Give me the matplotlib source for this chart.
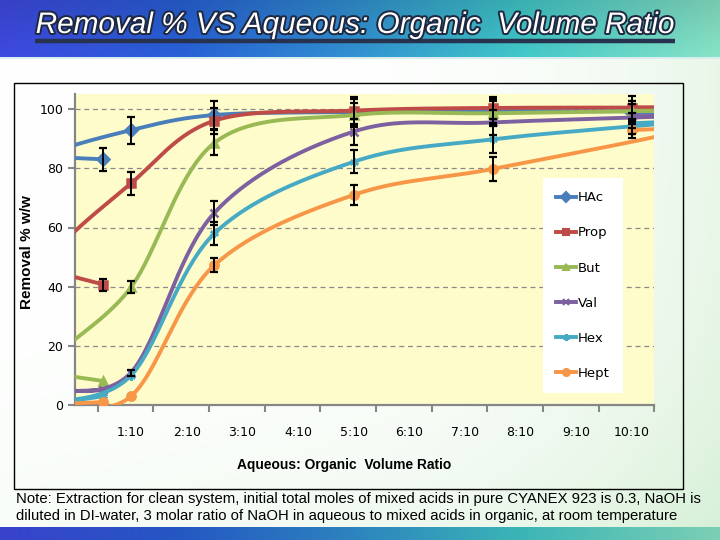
import numpy as np
import matplotlib
matplotlib.use("Agg")
import matplotlib.pyplot as plt
import matplotlib.patheffects as pe
from matplotlib.lines import Line2D
from matplotlib.patches import Rectangle

# aqueous : organic volume ratio of each sample
ratios = [0.05, 0.1, 0.25, 0.5, 0.75, 1.0]
tick_ratios = [0.1, 0.2, 0.3, 0.4, 0.5, 0.6, 0.7, 0.8, 0.9, 1.0]
tick_labels = ["1:10", "2:10", "3:10", "4:10", "5:10", "6:10", "7:10", "8:10", "9:10", "10:10"]

names = ["HAc", "Prop", "But", "Val", "Hex", "Hept"]

# removal % w/w
hac = [83.0, 92.9, 98.0, 99.0, 99.3, 98.8]
prop = [40.6, 74.9, 96.1, 99.5, 100.4, 100.5]
but = [8.0, 39.8, 88.6, 98.0, 98.6, 99.4]
val = [5.0, 11.0, 65.0, 92.4, 95.5, 97.6]
hexa = [3.0, 10.0, 58.0, 82.2, 89.8, 95.2]
hept = [1.0, 3.0, 47.3, 71.0, 79.8, 92.9]

hac_err = [3.9, 4.6, 4.6, 4.5, 4.0, 4.0]
prop_err = [2.0, 3.9, 4.4, 4.6, 3.8, 3.8]
but_err = [0.0, 2.0, 4.2, 4.0, 4.0, 3.5]
val_err = [0.0, 1.0, 4.0, 4.4, 4.3, 4.0]
hexa_err = [0.0, 0.0, 4.0, 3.9, 4.5, 3.5]
hept_err = [0.0, 0.0, 2.3, 3.4, 4.1, 2.8]

# the original smoothed lines pass through two unplotted rows, one left of
# the axis (between 1:20 and 1:10) and one right of the plot (before 10:10)
ghost_x = [-0.04, 1.08]
hac_ghost = [85.0, 99.2]
prop_ghost = [49.5, 100.5]
but_ghost = [14.5, 99.5]
val_ghost = [5.2, 97.6]
hexa_ghost = [1.0, 95.5]
hept_ghost = [0.5, 92.3]

colors = ["#4a7ebb", "#be4b48", "#98b954", "#7d60a0", "#46aac5", "#f79646"]
markers = ["D", "s", "^", "x", (6, 2, 0), "o"]


def smooth(xs, ys, n=40):
    # Excel style smoothing: Catmull-Rom as cubic Bezier segments
    pts = np.column_stack([xs, ys]).astype(float)
    out = [pts[0]]
    t = np.linspace(0, 1, n)[1:, None]
    for i in range(len(pts) - 1):
        p0 = pts[max(i - 1, 0)]
        p1, p2 = pts[i], pts[i + 1]
        p3 = pts[min(i + 2, len(pts) - 1)]
        c1 = p1 + (p2 - p0) / 6
        c2 = p2 - (p3 - p1) / 6
        seg = (1 - t) ** 3 * p1 + 3 * (1 - t) ** 2 * t * c1 + 3 * (1 - t) * t ** 2 * c2 + t ** 3 * p2
        out.extend(seg)
    return np.array(out)


def line_path(values, ghost):
    xs = [ratios[0], ghost_x[0]] + ratios[1:5] + [ghost_x[1], ratios[5]]
    ys = [values[0], ghost[0]] + values[1:5] + [ghost[1], values[5]]
    return smooth(xs, ys)


def background(w=720, h=540):
    xx = np.linspace(0, 1, w)
    img = np.ones((h, w, 3))
    # header band
    stops = [0.0, 0.25, 0.5, 0.72, 1.0]
    hdr = np.array([[60, 70, 215], [38, 92, 205], [48, 140, 200], [62, 190, 192], [130, 218, 190]]) / 255
    head = np.column_stack([np.interp(xx, stops, hdr[:, k]) for k in range(3)])
    img[:57] = head[None, :, :]
    img[:57] *= np.linspace(0.92, 1.05, 57)[:, None, None]
    img[57:59] = [0.85, 0.93, 0.93]
    # body: white fading into pale green
    yy = np.linspace(0, 1, h - 59 - 13)[:, None]
    g = np.clip(0.55 * xx[None, :] ** 4 + 0.45 * yy ** 3 * (0.4 + 0.6 * xx[None, :]), 0, 1)
    green = np.array([0.84, 0.94, 0.84])
    img[59:h - 13] = 1 - g[:, :, None] * (1 - green)
    # footer band
    img[h - 13:] = head[None, :, :] * 0.95
    return np.clip(img, 0, 1)


fig = plt.figure(figsize=(7.2, 5.4), dpi=100)

bg = fig.add_axes([0, 0, 1, 1], zorder=-10)
bg.imshow(background(), aspect="auto", extent=[0, 720, 540, 0])
bg.set_xlim(0, 720)
bg.set_ylim(540, 0)
bg.axis("off")

bg.add_patch(Rectangle((14, 83), 669, 406, fill=False, edgecolor="black", lw=1.0))

title = bg.text(355, 33, "Removal % VS Aqueous: Organic  Volume Ratio", ha="center", va="baseline",
                fontsize=21.4, style="italic", color="white", family="Liberation Sans")
title.set_path_effects([pe.withStroke(linewidth=2.8, foreground="#1e2840")])
bg.plot([35, 675], [41, 41], color="#27324f", lw=3.2, solid_capstyle="butt")

bg.text(27, 252, "Removal % w/w", rotation=90, ha="center", va="center",
        fontsize=11, fontweight="bold", family="Liberation Sans")
bg.text(344, 465, "Aqueous: Organic  Volume Ratio", ha="center", va="center",
        fontsize=9.9, fontweight="bold", family="Liberation Sans")

note = ["Note: Extraction for clean system, initial total moles of mixed acids in pure CYANEX 923 is 0.3, NaOH is",
        "diluted in DI-water, 3 molar ratio of NaOH in aqueous to mixed acids in organic, at room temperature"]
bg.text(16, 499, note[0], ha="left", va="center", fontsize=10.75, family="Liberation Sans")
bg.text(16, 516, note[1], ha="left", va="center", fontsize=10.75, family="Liberation Sans")

ax = fig.add_axes([75.3 / 720, (540 - 405.1) / 540, 579 / 720, 310.8 / 540])
ax.set_facecolor("#fffccb")
ax.set_xlim(0, 1.04)
ax.set_ylim(0, 105)

series = [hac, prop, but, val, hexa, hept]
errors = [hac_err, prop_err, but_err, val_err, hexa_err, hept_err]
ghosts = [hac_ghost, prop_ghost, but_ghost, val_ghost, hexa_ghost, hept_ghost]

handles = []
for i, (vals, err, gh) in enumerate(zip(series, errors, ghosts)):
    path = line_path(vals, gh)
    z = 3 + i * 0.1
    ax.plot(path[:, 0], path[:, 1], color=colors[i], lw=2.8, solid_capstyle="round", zorder=z)
    ax.plot(ratios, vals, linestyle="none", marker=markers[i], color=colors[i],
            mec=colors[i], mew=1.8, ms=6, zorder=z + 0.05)
    # only the points that carry an error bar on the slide
    keep = [k for k, e in enumerate(err) if e > 0]
    ax.errorbar([ratios[k] for k in keep], [vals[k] for k in keep], yerr=[err[k] for k in keep],
                fmt="none", ecolor="black", elinewidth=1.4, capsize=3, capthick=1.6, zorder=6)
    handles.append(Line2D([], [], color=colors[i], lw=2.8, marker=markers[i], ms=5, mew=1.5))

ax.set_yticks(range(0, 101, 20))
ax.yaxis.grid(True, linestyle=(0, (4, 3)), color="#8a8a8a", lw=0.9)
ax.set_axisbelow(True)
ax.set_xticks(tick_ratios)
ax.set_xticklabels(tick_labels)
ax.set_xticks(np.arange(0.04, 1.05, 0.1), minor=True)
ax.tick_params(axis="x", which="major", length=0, pad=15, labelsize=9)
ax.tick_params(axis="x", which="minor", length=5, width=1.5, color="#868686")
ax.tick_params(axis="y", length=5, width=1.5, color="#868686", pad=3.6, labelsize=9)

for side in ["top", "right"]:
    ax.spines[side].set_visible(False)
for side in ["left", "bottom"]:
    ax.spines[side].set_color("#868686")
    ax.spines[side].set_linewidth(1.6)

leg = ax.legend(handles, names, loc="upper left", bbox_to_anchor=(543 / 720, 1 - 178 / 540),
                bbox_transform=fig.transFigure, borderaxespad=0, frameon=True, fancybox=False,
                facecolor="white", edgecolor="none", framealpha=1, fontsize=9.5,
                handlelength=1.5, handletextpad=0.15, labelspacing=1.68, borderpad=1.0)
leg.set_zorder(10)

fig.savefig("out.png", dpi=100)
